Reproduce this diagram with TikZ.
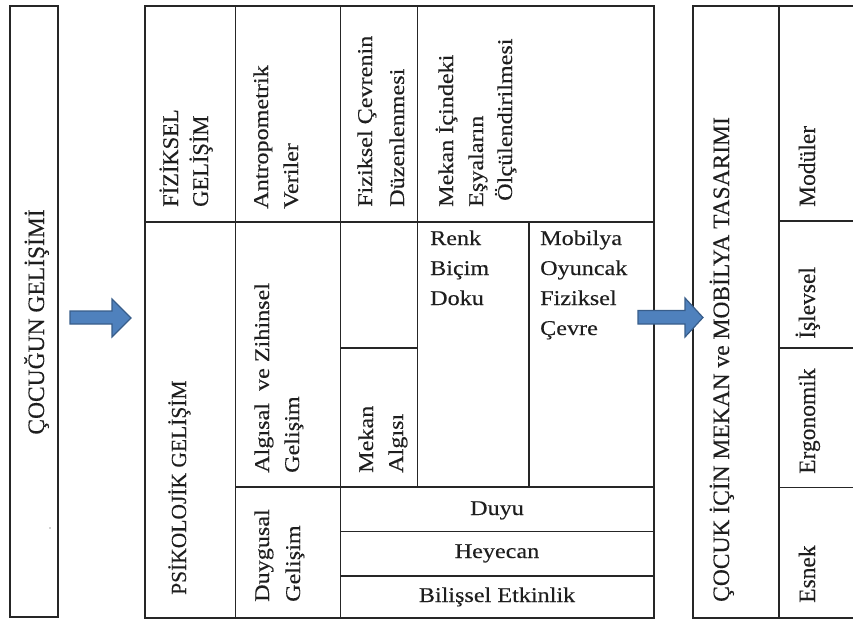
\documentclass[tikz,border=0pt]{standalone}
\usepackage{fontspec}
\setmainfont[FakeBold=0.2]{Liberation Serif}
\newfontfamily\pal[FakeStretch=1.15,FakeBold=0.25]{Liberation Serif}
\definecolor{arrowfill}{HTML}{4F81BD}
\definecolor{arrowline}{HTML}{385D8A}
\definecolor{ink}{HTML}{1E1E1E}
\begin{document}
\begin{tikzpicture}[x=1pt,y=-1pt,
  tline/.style={line width=1.2pt, draw=black!85},
  vt/.style={rotate=90, anchor=base west, inner sep=0pt, text=ink, font=\pal\fontsize{21}{25}\selectfont},
  vcap/.style={rotate=90, anchor=base west, inner sep=0pt, text=ink, font=\fontsize{21.5}{25}\selectfont},
  vtt/.style={rotate=90, anchor=base west, inner sep=0pt, text=ink, font=\fontsize{23.5}{28}\selectfont},
  ht/.style={anchor=base west, inner sep=0pt, text=ink, font=\pal\fontsize{21}{25}\selectfont},
  hc/.style={anchor=base, inner sep=0pt, text=ink, font=\pal\fontsize{21}{25}\selectfont},
  barrow/.style={fill=arrowfill, draw=arrowline, line width=1.2pt, line join=miter}]
\useasboundingbox (0,0) rectangle (853,621);

% left box
\draw[tline] (10,6) rectangle (58,617);
\node[vtt, anchor=base] (cg) at (44,322) {ÇOCUĞUN GELİŞİMİ};
\node[inner sep=0pt, text=ink, font=\fontsize{8}{8}\selectfont] (dot) at (50,528) {.};

% main table
\draw[tline] (145,6) rectangle (654,618);
\draw[tline] (145,222) -- (654,222);
\draw[tline] (235.5,6) -- (235.5,618);
\draw[tline] (340.5,6) -- (340.5,618);
\draw[tline] (417.5,6) -- (417.5,487);
\draw[tline] (529,222) -- (529,487);
\draw[tline] (340.5,348) -- (417.5,348);
\draw[tline] (235.5,487) -- (654,487);
\draw[tline] (340.5,531.5) -- (654,531.5);
\draw[tline] (340.5,576) -- (654,576);

% top row
\node[vcap, font=\fontsize{22.5}{25}\selectfont] (fg1) at (178,207) {FİZİKSEL};
\node[vcap, font=\fontsize{22.5}{25}\selectfont] (fg2) at (208,207) {GELİŞİM};
\node[vt] (av1) at (268,209) {Antropometrik};
\node[vt] (av2) at (298,209) {Veriler};
\node[vt] (fc1) at (372,207) {Fiziksel Çevrenin};
\node[vt] (fc2) at (404,207) {Düzenlenmesi};
\node[vt] (me1) at (453,207) {Mekan İçindeki};
\node[vt] (me2) at (483,207) {Eşyaların};
\node[vt] (me3) at (512,201) {Ölçülendirilmesi};

% psychological part
\node[vcap] (pg) at (186,595) {PSİKOLOJİK GELİŞİM};
\node[vt] (az1) at (269,473) {Algısal\ \ ve Zihinsel};
\node[vt] (az2) at (299,473) {Gelişim};
\node[vt] (ma1) at (373,473) {Mekan};
\node[vt] (ma2) at (403,473) {Algısı};
\node[ht] (r1) at (430,245) {Renk};
\node[ht] (r2) at (430,275) {Biçim};
\node[ht] (r3) at (430,305) {Doku};
\node[ht] (m1) at (540,245) {Mobilya};
\node[ht] (m2) at (540,275) {Oyuncak};
\node[ht] (m3) at (540,305) {Fiziksel};
\node[ht] (m4) at (540,335) {Çevre};
\node[vt] (dg1) at (269,602) {Duygusal};
\node[vt] (dg2) at (300,602) {Gelişim};
\node[hc] (du) at (497,515) {Duyu};
\node[hc] (he) at (497,558) {Heyecan};
\node[hc] (be) at (497,602) {Bilişsel Etkinlik};

% right table
\draw[tline] (860,6) -- (693,6) -- (693,618) -- (860,618);
\draw[tline] (779,6) -- (779,618);
\draw[tline] (779,221) -- (860,221);
\draw[tline] (779,348) -- (860,348);
\draw[tline] (779,487.5) -- (860,487.5);
\node[vtt] (ct) at (729,602) {ÇOCUK İÇİN MEKAN ve MOBİLYA TASARIMI};
\node[vtt] (mo) at (815,207) {Modüler};
\node[vtt] (is) at (815,339) {İşlevsel};
\node[vtt] (er) at (815,474) {Ergonomik};
\node[vtt] (es) at (815,603) {Esnek};

% block arrows
\draw[barrow] (70,311) -- (112,311) -- (112,299) -- (131,318) -- (112,337) -- (112,324) -- (70,324) -- cycle;
\draw[barrow] (638,310.5) -- (685,310.5) -- (685,298) -- (703,317.5) -- (685,337) -- (685,324) -- (638,324) -- cycle;
\end{tikzpicture}
\end{document}
